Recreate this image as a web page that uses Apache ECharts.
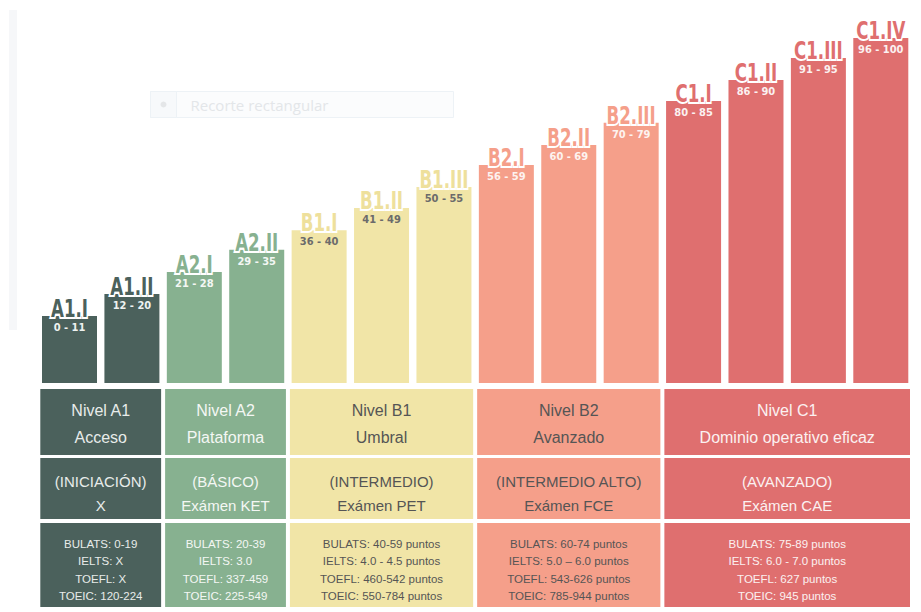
<!DOCTYPE html>
<html>
<head>
<meta charset="utf-8">
<script src="https://cdn.jsdelivr.net/npm/echarts@6/dist/echarts.min.js"></script>
<style>
html,body{margin:0;padding:0;background:#fff;}
#main{width:921px;height:612px;}
</style>
</head>
<body>
<div id="main"></div>
<script>
// ---- data ----
const levels = ['A1.I','A1.II','A2.I','A2.II','B1.I','B1.II','B1.III','B2.I','B2.II','B2.III','C1.I','C1.II','C1.III','C1.IV'];
const ranges = ['0 - 11','12 - 20','21 - 28','29 - 35','36 - 40','41 - 49','50 - 55','56 - 59','60 - 69','70 - 79','80 - 85','86 - 90','91 - 95','96 - 100'];
const barHeights = [19.4, 25.8, 32.2, 38.6, 44.3, 50.7, 56.8, 63.2, 69.0, 75.4, 81.7, 87.8, 94.2, 100];
const levelGroup = [0,0,1,1,2,2,2,3,3,3,4,4,4,4];
const groupStart = [0, 2, 4, 7, 10];
const groupEnd   = [1, 3, 6, 9, 13];
const groupRow1 = ['Nivel A1\nAcceso','Nivel A2\nPlataforma','Nivel B1\nUmbral','Nivel B2\nAvanzado','Nivel C1\nDominio operativo eficaz'];
const groupRow2 = ['(INICIACIÓN)\nX','(BÁSICO)\nExámen KET','(INTERMEDIO)\nExámen PET','(INTERMEDIO ALTO)\nExámen FCE','(AVANZADO)\nExámen CAE'];
const groupRow3 = [
  'BULATS: 0-19\nIELTS: X\nTOEFL: X\nTOEIC: 120-224',
  'BULATS: 20-39\nIELTS: 3.0\nTOEFL: 337-459\nTOEIC: 225-549',
  'BULATS: 40-59 puntos\nIELTS: 4.0 - 4.5 puntos\nTOEFL: 460-542 puntos\nTOEIC: 550-784 puntos',
  'BULATS: 60-74 puntos\nIELTS: 5.0 – 6.0 puntos\nTOEFL: 543-626 puntos\nTOEIC: 785-944 puntos',
  'BULATS: 75-89 puntos\nIELTS: 6.0 - 7.0 puntos\nTOEFL: 627 puntos\nTOEIC: 945 puntos'
];

// ---- styles ----
const groupColors = ['#4b615c','#87b190','#f1e5a7','#f59f8a','#df6f6f'];
const nameColors  = ['#4b615c','#87b190','#eee09c','#f59f8a','#df6f6f'];
const groupTextColors = ['#e8ecea','#f4f7f4','#555555','#555555','#fbf1f1'];
const rangeTextColors = ['#eef2f0','#f4f7f4','#6b6b6b','#fdf3f0','#fbf1f1'];
const nameFont = '"DejaVu Sans Condensed", sans-serif';
const rangeFont = '"DejaVu Sans Condensed", sans-serif';
const tableFont = '"Liberation Sans", Arial, sans-serif';
const rows = [[389, 455, 16, 27], [458, 519, 15, 24], [523, 607, 11.5, 17.3]];
const rowTextY = [424, 493, 570];

const chart = echarts.init(document.getElementById('main'), null, {renderer: 'svg'});

const tableData = groupStart.map((s, i) => [s, groupEnd[i], i]);
const barData = barHeights.map((v, i) => ({
  value: v,
  itemStyle: {color: groupColors[levelGroup[i]]},
  label: {color: rangeTextColors[levelGroup[i]]}
}));
const nameData = barHeights.map((v, i) => [i, v]);

chart.setOption({
  animation: false,
  backgroundColor: '#ffffff',
  grid: {left: 38.3, right: 9, top: 10, bottom: 229},
  xAxis: {
    type: 'category', data: levels,
    axisLine: {show: false}, axisTick: {show: false}, axisLabel: {show: false}, splitLine: {show: false}
  },
  yAxis: {
    type: 'value', min: 0, max: 108.1,
    axisLine: {show: false}, axisTick: {show: false}, axisLabel: {show: false}, splitLine: {show: false}
  },
  graphic: [
    {type: 'rect', left: 9, top: 10, shape: {width: 8, height: 320}, style: {fill: '#f6f7f9'}, z: -1},
    {type: 'group', left: 150, top: 91, children: [
      {type: 'rect', shape: {x: 0, y: 0, width: 303, height: 26}, style: {fill: '#fbfcfd', stroke: '#edf2f6', lineWidth: 1}},
      {type: 'rect', shape: {x: 0, y: 0, width: 26, height: 26}, style: {fill: '#f7f9fb', stroke: '#edf2f6', lineWidth: 1}},
      {type: 'circle', shape: {cx: 13, cy: 13, r: 3}, style: {fill: '#e4e6e8'}},
      {type: 'text', style: {x: 40, y: 13, text: 'Recorte rectangular', fill: '#e3e6e9', fontSize: 15, fontFamily: '"Open Sans", sans-serif', verticalAlign: 'middle'}}
    ]}
  ],
  series: [
    {
      type: 'bar', data: barData, barWidth: 55,
      label: {
        show: true, position: 'insideTop', distance: 6,
        formatter: p => ranges[p.dataIndex],
        fontFamily: rangeFont, fontWeight: 'bold', fontSize: 11
      },
      z: 2
    },
    {
      type: 'custom', data: nameData, clip: false, silent: true, z: 3,
      encode: {x: 0, y: 1},
      renderItem: function (params, api) {
        const i = api.value(0);
        const pt = api.coord([i, api.value(1)]);
        const gi = levelGroup[i];
        return {
          type: 'text', x: pt[0], y: pt[1] + 5, scaleX: 0.74, scaleY: 1,
          style: {
            x: 0, y: 0, text: levels[i], fill: nameColors[gi],
            fontFamily: nameFont, fontWeight: 900, fontSize: 25,
            stroke: '#ffffff', lineWidth: 4, strokeFirst: true,
            align: 'center', verticalAlign: 'bottom'
          }
        };
      }
    },
    {
      type: 'custom', data: tableData, clip: false, silent: true,
      encode: {x: 0, y: 1},
      renderItem: function (params, api) {
        const gi = api.value(2);
        const bw = api.size([1, 0])[0];
        const x0 = api.coord([api.value(0), 0])[0] - bw / 2 + 2;
        const x1 = api.coord([api.value(1), 0])[0] + bw / 2 - 2;
        const texts = [groupRow1[gi], groupRow2[gi], groupRow3[gi]];
        const children = [];
        rows.forEach((r, ri) => {
          children.push({type: 'rect', shape: {x: x0, y: r[0], width: x1 - x0, height: r[1] - r[0]},
            style: {fill: groupColors[gi]}});
          children.push({type: 'text', style: {
            x: (x0 + x1) / 2, y: rowTextY[ri], text: texts[ri],
            fill: groupTextColors[gi], fontSize: r[2], lineHeight: r[3], fontFamily: tableFont,
            align: 'center', verticalAlign: 'middle'
          }});
        });
        return {type: 'group', children: children};
      }
    }
  ]
});
</script>
</body>
</html>
